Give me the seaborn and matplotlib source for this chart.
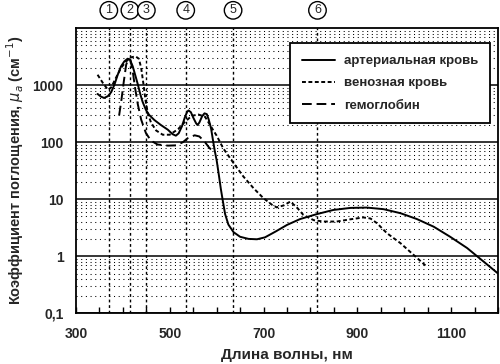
import matplotlib
matplotlib.use('Agg')
import matplotlib.pyplot as plt
import matplotlib.ticker as mticker
import matplotlib.transforms as mtransforms
import seaborn as sns

# артериальная кровь
art_nm = [346, 353, 360, 368, 375, 382, 389, 396, 403, 410, 415, 421, 427, 432, 437,
          442, 449, 456, 467, 481, 496, 506, 513, 519, 526, 532, 537, 540, 545, 550,
          556, 559, 563, 569, 574, 579, 583, 588, 592, 596, 600, 604, 609, 613, 618,
          625, 636, 650, 668, 686, 703, 725, 750, 778, 814, 849, 885, 920, 956, 992,
          1027, 1063, 1098, 1134, 1170, 1200]
art_mu = [700, 630, 595, 640, 750, 1020, 1520, 2130, 2600, 2900, 2800, 2130, 1430, 1020, 700,
          510, 370, 300, 245, 200, 165, 138, 130, 143, 190, 270, 340, 360, 335, 270,
          215, 200, 220, 285, 320, 310, 250, 175, 110, 70, 48, 29, 15, 9.5, 5.5,
          3.6, 2.65, 2.2, 2.02, 1.99, 2.15, 2.7, 3.55, 4.5, 5.5, 6.5, 7.05, 7.15, 6.7, 5.7,
          4.5, 3.3, 2.2, 1.4, 0.8, 0.5]

# венозная кровь
ven_nm = [346, 357, 368, 375, 385, 396, 407, 417, 427, 434, 439, 444, 448, 453, 460,
          471, 485, 500, 518, 533, 547, 561, 575, 586, 593, 600, 614, 636, 657, 679,
          700, 718, 728, 743, 757, 771, 785, 807, 828, 856, 885, 913, 928, 942, 963,
          992, 1020, 1048]
ven_mu = [1520, 1100, 830, 910, 1330, 2000, 2600, 3060, 3190, 2900, 2000, 1020, 560, 325, 220,
          160, 135, 135, 170, 230, 290, 305, 280, 200, 160, 130, 78, 43, 25, 15.5,
          10.4, 8, 7.2, 7.8, 9.1, 7.2, 5.3, 4.3, 4.07, 4.07, 4.45, 4.8, 4.6, 3.8, 2.55,
          1.7, 1.06, 0.66]

# гемоглобин
hb_nm = [392, 397, 402, 407, 412, 416, 421, 426, 432, 439, 449, 460, 474, 496, 514,
         528, 538, 553, 563, 574, 583, 591]
hb_mu = [295, 560, 1165, 2280, 2900, 2790, 1740, 890, 454, 248, 145, 106, 91, 87, 88,
         100, 117, 132, 126, 103, 82, 70]

marker_nm = [370, 415, 450, 534, 635, 815]
marker_lbl = ['1', '2', '3', '4', '5', '6']
x_ticks = [300, 500, 700, 900, 1100]
y_ticks = [0.1, 1, 10, 100, 1000]
y_tick_lbl = ['0,1', '1', '10', '100', '1000']

sns.set_style('white')
plt.rcParams['font.family'] = ['Liberation Sans', 'DejaVu Sans']

fig = plt.figure(figsize=(5, 3.64), dpi=100)
ax = fig.add_axes([0.152, 0.139, 0.844, 0.784])

sns.lineplot(x=art_nm, y=art_mu, ax=ax, color='black', lw=1.4,
             label='артериальная кровь', zorder=4)
sns.lineplot(x=ven_nm, y=ven_mu, ax=ax, color='black', lw=1.4,
             linestyle=(0, (2, 1.3)), label='венозная кровь', zorder=4)
sns.lineplot(x=hb_nm, y=hb_mu, ax=ax, color='black', lw=1.4,
             linestyle=(0, (5, 2.5)), label='гемоглобин', zorder=4)

ax.set_yscale('log')
ax.set_xlim(300, 1200)
ax.set_ylim(0.1, 10000)

ax.set_yticks(y_ticks)
ax.set_yticklabels(y_tick_lbl)
ax.yaxis.set_minor_locator(mticker.LogLocator(base=10, subs=range(2, 10)))
ax.yaxis.set_minor_formatter(mticker.NullFormatter())
ax.tick_params(axis='y', which='both', length=0, pad=9, labelsize=10)

ax.set_xticks(x_ticks)
ax.xaxis.set_minor_locator(mticker.MultipleLocator(50))
ax.tick_params(axis='x', which='both', direction='in', length=4, width=1,
               color='black', bottom=True, pad=10, labelsize=10)
for lbl in ax.get_xticklabels() + ax.get_yticklabels():
    lbl.set_fontweight('bold')

ax.grid(which='major', axis='y', color='black', lw=1.1, ls='-', zorder=1)
ax.grid(which='minor', axis='y', color='black', lw=0.75, ls=(0, (1, 3.5)), zorder=1)
ax.grid(which='both', axis='x', visible=False)
ax.set_axisbelow(True)

for s in ax.spines.values():
    s.set_color('black')
    s.set_linewidth(1.3)

trans = mtransforms.blended_transform_factory(ax.transData, ax.transAxes)
for x, t in zip(marker_nm, marker_lbl):
    ax.axvline(x, color='black', lw=1.0, ls=(0, (2, 2)), zorder=2)
    ax.text(x, 1.062, t, transform=trans, ha='center', va='center', fontsize=9,
            clip_on=False,
            bbox=dict(boxstyle='circle,pad=0.22', fc='white', ec='black', lw=1))

ax.set_xlabel('Длина волны, нм', fontsize=11, fontweight='bold', labelpad=5)
ax.set_ylabel('Коэффициент поглощения, $\\mu_a$ (см$^{-1}$)', fontsize=10.5,
              fontweight='bold', labelpad=5)

leg = ax.legend(loc='upper right', bbox_to_anchor=(0.981, 0.947), frameon=True,
                fancybox=False, edgecolor='black', framealpha=1, handlelength=2.5,
                handletextpad=0.7, labelspacing=0.75, borderpad=0.9, borderaxespad=0,
                prop={'size': 9.5, 'weight': 'bold'})
leg.get_frame().set_linewidth(1.3)
leg.set_zorder(5)

fig.savefig('out.png', dpi=100)
